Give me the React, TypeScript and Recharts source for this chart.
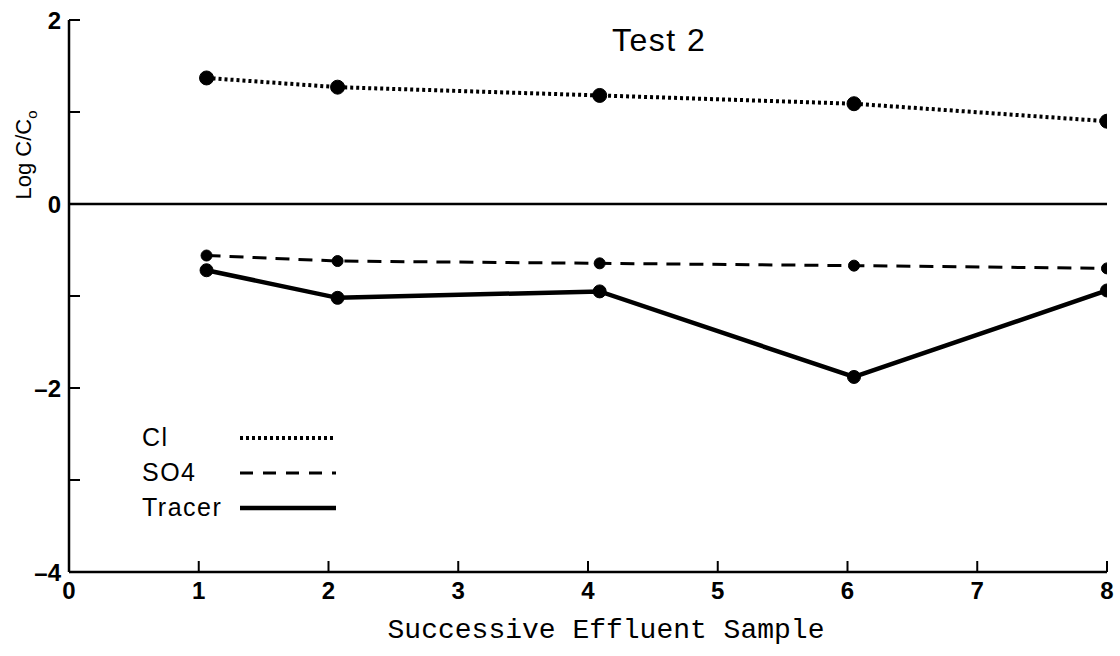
import { LineChart, Line, XAxis, YAxis, ReferenceLine, Legend } from "recharts";

// sample positions as plotted (points sit a hair right of the ticks in the original)
const samples = [1.06, 2.07, 4.09, 6.05, 8.0];
const clValues = [1.37, 1.27, 1.18, 1.09, 0.9];
const so4Values = [-0.56, -0.62, -0.645, -0.67, -0.7];
const tracerValues = [-0.72, -1.02, -0.95, -1.88, -0.94];

const xTicks = [0, 1, 2, 3, 4, 5, 6, 7, 8];
const yTicks = [-4, -3, -2, -1, 0, 1, 2];
const yLabeled = [-4, -2, 0, 2];

const series = [
  { key: "cl", name: "Cl", dash: "3 3", width: 4, r: 7 },
  { key: "so4", name: "SO4", dash: "14 9", width: 3, r: 5.5 },
  { key: "tracer", name: "Tracer", dash: undefined, width: 4.5, r: 6.5 },
];

const data = samples.map((s, i) => ({
  sample: s,
  cl: clValues[i],
  so4: so4Values[i],
  tracer: tracerValues[i],
}));

const tickFont = {
  fontFamily: "'Liberation Sans', Arial, sans-serif",
  fontSize: 24,
  fontWeight: 700,
  fill: "#000",
};

function YTick(props: any) {
  const { x, y, payload } = props;
  const v = payload.value as number;
  return (
    <g>
      <line x1={x + 6} x2={x + 17} y1={y} y2={y} stroke="#000" strokeWidth={2} />
      {yLabeled.includes(v) && (
        <text x={x - 2} y={y} dy="0.36em" textAnchor="end" {...tickFont}>
          {v < 0 ? `–${Math.abs(v)}` : v}
        </text>
      )}
    </g>
  );
}

function XTick(props: any) {
  const { x, y, payload } = props;
  return (
    <g>
      {payload.value > 0 && (
        <line x1={x} x2={x} y1={y - 4} y2={y - 15} stroke="#000" strokeWidth={2} />
      )}
      <text x={x} y={y + 6} dy="0.72em" textAnchor="middle" {...tickFont}>
        {payload.value}
      </text>
    </g>
  );
}

function LegendBox() {
  return (
    <div style={{ fontFamily: "'Liberation Sans', Arial, sans-serif", fontSize: 25, letterSpacing: 1.5 }}>
      {series.map((s) => (
        <div key={s.key} style={{ display: "flex", alignItems: "center", height: 35 }}>
          <span style={{ width: 96 }}>{s.name}</span>
          <svg width={100} height={10}>
            <line
              x1={2}
              x2={98}
              y1={5}
              y2={5}
              stroke="#000"
              strokeWidth={s.width}
              strokeDasharray={s.key === "so4" ? "13 10" : s.dash}
            />
          </svg>
        </div>
      ))}
    </div>
  );
}

export default function App() {
  return (
    <div style={{ position: "absolute", left: 0, top: 0, width: 1120, height: 656, background: "#fff" }}>
      <LineChart
        width={1120}
        height={656}
        data={data}
        margin={{ top: 20, right: 13, bottom: 0, left: 9 }}
      >
        <XAxis
          dataKey="sample"
          type="number"
          domain={[0, 8]}
          ticks={xTicks}
          allowDataOverflow
          height={84}
          tickSize={0}
          tickMargin={4}
          tick={<XTick />}
          axisLine={{ stroke: "#000", strokeWidth: 2.5 }}
          label={{
            value: "Successive Effluent Sample",
            position: "insideBottom",
            offset: 18,
            dx: 18,
            style: {
              fontFamily: "'Liberation Mono', 'Courier New', monospace",
              fontSize: 28,
              fill: "#000",
            },
          }}
        />
        <YAxis
          type="number"
          domain={[-4, 2]}
          ticks={yTicks}
          width={60}
          tickSize={0}
          tickMargin={6}
          tick={<YTick />}
          axisLine={{ stroke: "#000", strokeWidth: 2.5 }}
        />
        <ReferenceLine y={0} stroke="#000" strokeWidth={2.5} />
        <Legend
          layout="horizontal"
          verticalAlign="middle"
          align="center"
          content={<LegendBox />}
          wrapperStyle={{ position: "absolute", left: 142, top: 420, width: 240 }}
        />
        {series.map((s) => (
          <Line
            key={s.key}
            type="linear"
            dataKey={s.key}
            name={s.name}
            stroke="#000"
            strokeWidth={s.width}
            strokeDasharray={s.dash}
            dot={{ r: s.r, fill: "#000", stroke: "#000", strokeWidth: 1, strokeDasharray: "" }}
            isAnimationActive={false}
          />
        ))}
      </LineChart>
      <div
        style={{
          position: "absolute",
          left: 612,
          top: 23,
          fontFamily: "'Liberation Sans', Arial, sans-serif",
          fontSize: 32,
          letterSpacing: 1.5,
          lineHeight: "34px",
        }}
      >
        Test 2
      </div>
      <div
        style={{
          position: "absolute",
          left: 28,
          top: 155,
          transform: "translate(-50%, -50%) rotate(-90deg)",
          fontFamily: "'Liberation Sans', Arial, sans-serif",
          fontSize: 22,
          whiteSpace: "nowrap",
          lineHeight: "26px",
        }}
      >
        Log C/C<sub style={{ fontSize: 15 }}>o</sub>
      </div>
    </div>
  );
}
